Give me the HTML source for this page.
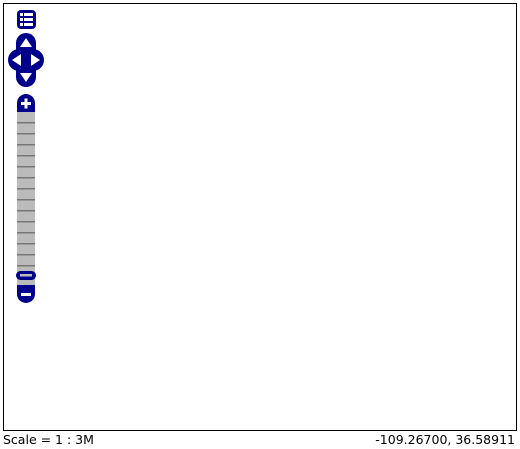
<!DOCTYPE html>
<html><head><meta charset="utf-8"><style>
body{margin:0;width:520px;height:449px;background:#fff;font-family:"DejaVu Sans","Liberation Sans",sans-serif;overflow:hidden;position:relative}
#map{position:absolute;left:3px;top:3px;width:512px;height:426px;border:1px solid #000;box-sizing:content-box}
.lbl{position:absolute;top:432px;font-size:12.5px;color:#000}
</style></head><body>
<div id="map"></div>
<svg width="520" height="449" style="position:absolute;left:0;top:0">
 <g>
  <rect x="17" y="10" width="19" height="19" rx="4" fill="#00008b"/>
  <g fill="#fff"><rect x="20" y="13" width="3" height="3"/><rect x="24" y="13" width="9" height="3"/>
  <rect x="20" y="18" width="3" height="3"/><rect x="24" y="18" width="9" height="3"/>
  <rect x="20" y="23" width="3" height="3"/><rect x="24" y="23" width="9" height="3"/></g>
 </g>
 <g>
  <rect x="16" y="33" width="20" height="54" rx="10" fill="#00008b"/>
  <rect x="8" y="49" width="36" height="22" rx="11" fill="#00008b"/>
  <polygon points="26,38 32,47 20,47" fill="#fff"/>
  <polygon points="26,82 32,73 20,73" fill="#fff"/>
  <polygon points="12,60 21,54 21,66" fill="#fff"/>
  <polygon points="40,60 31,54 31,66" fill="#fff"/>
 </g>
 <g>
  <path d="M17 112 L17 103 A9 9 0 0 1 35 103 L35 112Z" fill="#00008b"/>
  <rect x="21" y="102" width="10" height="3" fill="#fff"/><rect x="24.5" y="98.5" width="3" height="10" fill="#fff"/>
 </g>
 <g>
  <rect x="17" y="112" width="18" height="173" fill="#bbb"/>
  <g id="ticks"></g>
 </g>
 <rect x="16" y="271" width="20" height="9" rx="4.5" fill="#00008b"/>
 <rect x="20" y="274" width="12" height="2.5" fill="#bbb"/>
 <g>
  <path d="M17 285 L17 294 A9 9 0 0 0 35 294 L35 285Z" fill="#00008b"/>
  <rect x="21" y="293" width="10" height="3" fill="#fff"/>
 </g>
</svg>
<div class="lbl" style="left:3px">Scale = 1 : 3M</div>
<div class="lbl" style="right:5px">-109.26700, 36.58911</div>
<script>
var g=document.getElementById('ticks');
for(var y=122;y<285;y+=11){var r=document.createElementNS('http://www.w3.org/2000/svg','rect');
r.setAttribute('x',17);r.setAttribute('y',y);r.setAttribute('width',18);r.setAttribute('height',1.5);r.setAttribute('fill','#777');


g.appendChild(r);}
</script>
</body></html>
